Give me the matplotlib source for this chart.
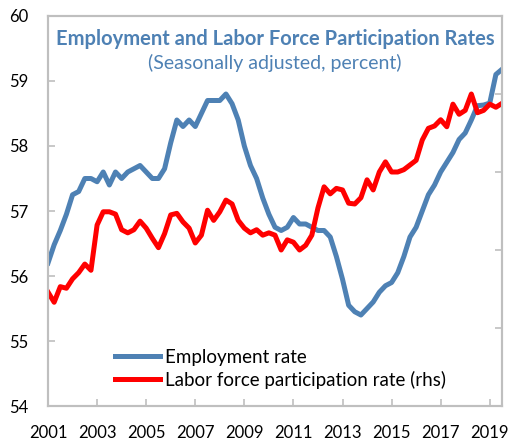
import matplotlib
matplotlib.use("Agg")
import matplotlib.pyplot as plt
import numpy as np

plt.rcParams['font.family'] = ['Lato', 'DejaVu Sans']

# quarterly observations, 2001Q1 .. 2019Q3
years = 2001 + np.arange(75) * 0.25

employment = [
    56.2, 56.48, 56.7, 56.95, 57.25, 57.3, 57.5, 57.5, 57.45, 57.6,
    57.4, 57.6, 57.5, 57.6, 57.65, 57.7, 57.6, 57.5, 57.5, 57.65,
    58.05, 58.4, 58.3, 58.4, 58.3, 58.5, 58.7, 58.7, 58.7, 58.8,
    58.65, 58.4, 58.0, 57.7, 57.5, 57.2, 56.95, 56.75, 56.7, 56.75,
    56.9, 56.8, 56.8, 56.75, 56.7, 56.7, 56.6, 56.3, 55.95, 55.55,
    55.45, 55.4, 55.5, 55.6, 55.75, 55.85, 55.9, 56.05, 56.3, 56.6,
    56.75, 57.0, 57.25, 57.4, 57.6, 57.75, 57.9, 58.1, 58.2, 58.4,
    58.62, 58.63, 58.66, 59.1, 59.18,
]

participation = [
    60.46, 60.33, 60.53, 60.51, 60.63, 60.71, 60.82, 60.74, 61.32, 61.49,
    61.49, 61.46, 61.26, 61.22, 61.26, 61.37, 61.28, 61.15, 61.03, 61.21,
    61.45, 61.47, 61.36, 61.28, 61.09, 61.19, 61.51, 61.38, 61.49, 61.64,
    61.59, 61.38, 61.28, 61.22, 61.26, 61.19, 61.22, 61.19, 61.00, 61.13,
    61.10, 61.00, 61.06, 61.19, 61.54, 61.81, 61.72, 61.79, 61.77, 61.60,
    61.59, 61.67, 61.90, 61.77, 62.00, 62.13, 62.00, 62.00, 62.03, 62.09,
    62.15, 62.41, 62.56, 62.59, 62.67, 62.58, 62.87, 62.74, 62.79, 63.00,
    62.76, 62.79, 62.87, 62.83, 62.88,
]

xticks = list(range(2001, 2020, 2))
blue = '#4e81b4'
red = '#ff0000'
grey = '#bfbfbf'

fig = plt.figure(figsize=(5.13, 4.43), dpi=100)
ax = fig.add_axes([0.0936, 0.0835, 0.885, 0.8804])
ax2 = ax.twinx()

l1, = ax.plot(years, employment, color=blue, lw=3.6, solid_joinstyle='round',
              label='Employment rate')
l2, = ax2.plot(years, participation, color=red, lw=3.6, solid_joinstyle='round',
               label='Labor force participation rate (rhs)')

ax.set_xlim(2001, 2019.5)
ax.set_ylim(54, 60)
ax2.set_ylim(59, 64)
ax.set_xticks(xticks)
ax.set_yticks(range(54, 61))
ax2.set_yticks(range(59, 65))
ax2.set_yticklabels([])

for a in (ax, ax2):
    for s in a.spines.values():
        s.set_color(grey)
        s.set_linewidth(1.5)
ax.tick_params(axis='both', direction='in', color=grey, width=1.2, length=5,
               labelsize=12, colors='black')
ax.tick_params(axis='y', pad=14, labelcolor='black', color=grey)
ax.tick_params(axis='x', pad=14, labelcolor='black', color=grey)
ax2.tick_params(axis='y', direction='in', color=grey, width=1.2, length=5)

ax.text(0.5, 0.942, 'Employment and Labor Force Participation Rates',
        transform=ax.transAxes, ha='center', va='center', color=blue,
        fontsize=14.5, fontweight='bold')
ax.text(0.5, 0.88, '(Seasonally adjusted, percent)',
        transform=ax.transAxes, ha='center', va='center', color=blue,
        fontsize=14)

leg = ax.legend(handles=[l1, l2], loc='lower left', bbox_to_anchor=(0.13, 0.025),
                frameon=False, fontsize=13.5, handlelength=2.4, handletextpad=0.3,
                labelspacing=0.25, borderaxespad=0)

fig.savefig('out.png', dpi=100)
